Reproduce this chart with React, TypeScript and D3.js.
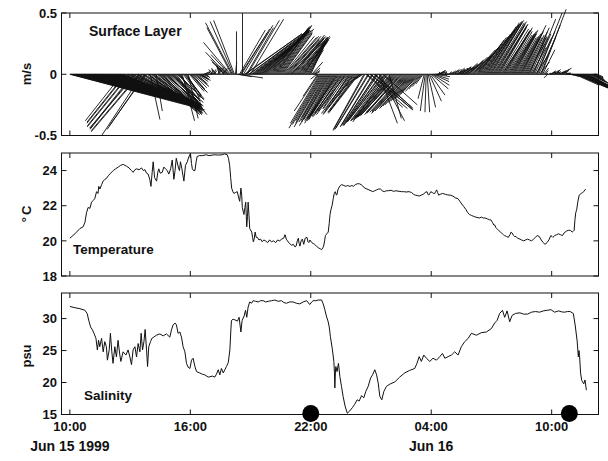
import React from "react";
import * as d3 from "d3";

// ---- time axis ----
const startTime = new Date(1999, 5, 15, 10, 0);
const axisStart = new Date(1999, 5, 15, 9, 35);
const axisEnd = new Date(1999, 5, 16, 12, 20);
const tickHours = [0, 6, 12, 18, 24];
const tickLabels = ["10:00", "16:00", "22:00", "04:00", "10:00"];
const dateLabelHours = [0, 18];
const dateLabels = ["Jun 15 1999", "Jun 16"];

// ---- surface layer current (m/s) ----
// record A: samples on the 6-minute marks from 10:00
const stickStepMinutes = 6;
const stickU = [
  1.10, 1.05, 1.02, 0.98, 0.95, 0.93, 0.90, 0.88, 0.86, 0.83,
  0.82, 0.80, 0.78, 0.75, 0.72, 0.70, 0.68, 0.66, 0.62, 0.60,
  0.58, 0.55, 0.52, 0.50, 0.48, 0.45, -0.30, 0.62, -0.32, 0.60,
  -0.35, 0.55, -0.36, -0.38, 0.52, -0.40, -0.33, 0.48, -0.30, 0.44,
  0.08, 0.42, 0.40, 0.05, 0.36, 0.33, 0.30, 0.32, 0.28, 0.25,
  0.27, 0.22, 0.18, 0.25, 0.20, 0.15, 0.10, 0.16, 0.12, 0.08,
  0.14, 0.10, 0.12, 0.08, 0.10, 0.06, 0.05, 0.04, 0.03, 0.02,
  0.04, -0.03, 0.02, -0.04, 0.05, -0.03, 0.04, -0.10, -0.17, -0.08,
  -0.22, -0.22, -0.17, 0.00, 0.20, 0.22, 0.00, 0.47, 0.22, 0.45,
  0.27, 0.44, 0.40, 0.43, 0.38, 0.40, 0.35, 0.37, 0.32, 0.35,
  0.30, 0.32, 0.28, 0.27, 0.25, 0.27, 0.24, 0.26, 0.28, 0.25,
  0.30, 0.26, 0.24, 0.27, 0.22, 0.24, 0.20, 0.18, 0.15, 0.12,
  0.14, 0.06, 0.04, -0.05, -0.20, -0.26, -0.22, -0.25, -0.20, -0.24,
  -0.22, -0.23, -0.20, -0.24, -0.26, -0.20, -0.25, -0.18, -0.28, -0.14,
  -0.24, -0.12, -0.26, -0.22, -0.25, -0.04, -0.08, -0.26, 0.33, -0.27,
  0.34, -0.26, 0.30, -0.28, 0.15, -0.29, 0.28, -0.30, -0.28, 0.10,
  -0.31, -0.29, -0.32, -0.30, -0.31, -0.28, -0.30, -0.27, -0.29, -0.26,
  -0.25, -0.23, -0.20, -0.18, -0.15, -0.10, -0.06, -0.04, 0.02, 0.10,
  0.14, 0.13, 0.12, 0.08, 0.05, -0.02, 0.03, 0.01, 0.02, 0.02,
  0.04, 0.05, 0.08, 0.06, 0.10, 0.08, 0.12, 0.10, 0.13, 0.12,
  0.16, 0.18, 0.20, 0.20, 0.22, 0.24, 0.26, 0.27, 0.26, 0.28,
  0.25, 0.27, 0.24, 0.25, 0.22, 0.24, 0.20, 0.22, 0.20, 0.22,
  0.18, 0.20, 0.17, 0.19, 0.16, 0.20, 0.15, 0.18, 0.14, 0.16,
  0.12, 0.18, 0.10, 0.20, 0.08, 0.20, 0.04, 0.02, -0.03, 0.05,
  0.03, 0.06, 0.04, 0.02, 0.05, 0.08, 0.03, 0.04, 0.02, 0.03,
  0.04, 0.08, 0.28, 0.27, 0.26, 0.24, 0.22, 0.20, 0.20, 0.16,
  0.12, 0.08, 0.06,
];
const stickV = [
  -0.29, -0.27, -0.26, -0.26, -0.25, -0.25, -0.24, -0.23, -0.24, -0.22,
  -0.23, -0.22, -0.22, -0.21, -0.20, -0.21, -0.20, -0.19, -0.20, -0.18,
  -0.20, -0.19, -0.17, -0.18, -0.17, -0.15, -0.38, -0.26, -0.40, -0.25,
  -0.43, -0.24, -0.45, -0.44, -0.27, -0.47, -0.50, -0.28, -0.42, -0.33,
  -0.37, -0.30, -0.32, -0.30, -0.30, -0.28, -0.30, -0.26, -0.25, -0.27,
  -0.23, -0.20, -0.24, -0.33, -0.20, -0.25, -0.38, -0.20, -0.18, -0.36,
  -0.15, -0.12, -0.10, -0.07, -0.05, -0.04, -0.02, 0.02, -0.03, 0.03,
  0.01, 0.04, 0.03, 0.05, 0.06, 0.07, 0.04, 0.10, 0.18, 0.07,
  0.26, 0.42, 0.44, 0.35, -0.03, 0.34, 0.50, 0.33, 0.38, 0.32,
  0.45, 0.33, 0.30, 0.34, 0.31, 0.35, 0.33, 0.36, 0.34, 0.39,
  0.36, 0.40, 0.37, 0.38, 0.35, 0.37, 0.33, 0.30, 0.31, 0.28,
  0.30, 0.32, 0.29, 0.31, 0.27, 0.30, 0.26, 0.30, 0.24, 0.20,
  0.30, 0.05, 0.02, -0.04, -0.30, -0.44, -0.38, -0.43, -0.35, -0.42,
  -0.37, -0.40, -0.34, -0.38, -0.36, -0.30, -0.34, -0.28, -0.35, -0.22,
  -0.32, -0.18, -0.33, -0.30, -0.32, -0.03, -0.05, -0.46, -0.28, -0.44,
  -0.29, -0.42, -0.27, -0.41, -0.40, -0.40, -0.25, -0.38, -0.39, -0.36,
  -0.37, -0.35, -0.36, -0.34, -0.33, -0.32, -0.31, -0.30, -0.32, -0.28,
  -0.27, -0.25, -0.22, -0.20, -0.16, -0.12, -0.08, -0.30, -0.31, -0.22,
  -0.12, -0.06, -0.02, 0.02, 0.03, 0.02, -0.01, 0.02, 0.00, 0.01,
  0.03, 0.04, 0.03, 0.05, 0.05, 0.06, 0.07, 0.09, 0.10, 0.12,
  0.15, 0.20, 0.22, 0.25, 0.30, 0.33, 0.37, 0.40, 0.42, 0.44,
  0.42, 0.43, 0.40, 0.41, 0.38, 0.36, 0.33, 0.38, 0.32, 0.35,
  0.30, 0.36, 0.30, 0.33, 0.28, 0.40, 0.30, 0.35, 0.25, 0.38,
  0.22, 0.45, 0.15, 0.50, 0.10, 0.53, 0.05, 0.01, -0.03, 0.02,
  0.03, 0.02, 0.04, 0.01, 0.03, 0.05, 0.02, 0.01, 0.00, 0.00,
  -0.01, -0.02, -0.12, -0.12, -0.12, -0.11, -0.11, -0.10, -0.12, -0.08,
  -0.06, -0.04, -0.03,
];
// record B: samples 3 minutes after each record A sample
const stickOffsetMinutes = 3;
const stickUB = [
  1.07, 1.03, 1.00, 0.96, 0.94, 0.91, 0.89, 0.87, 0.84, 0.83,
  0.81, 0.79, 0.76, 0.73, 0.71, 0.69, 0.67, 0.64, 0.61, 0.59,
  0.56, 0.54, 0.51, 0.49, 0.46, 0.50, 0.64, -0.31, 0.61, -0.34,
  0.58, -0.35, 0.54, 0.50, -0.39, 0.50, 0.46, -0.31, 0.45, 0.43,
  0.41, 0.38, 0.37, 0.35, 0.34, 0.31, 0.30, 0.29, 0.26, 0.26,
  0.24, 0.20, 0.22, 0.22, 0.17, 0.12, 0.14, 0.13, 0.10, 0.12,
  0.11, 0.11, 0.10, 0.09, 0.08, 0.05, 0.04, 0.03, 0.02, 0.03,
  0.01, 0.02, -0.03, 0.03, -0.02, 0.05, -0.06, -0.12, -0.05, -0.15,
  -0.20, -0.19, 0.01, 0.12, 0.21, 0.23, 0.24, 0.46, 0.26, 0.44,
  0.42, 0.41, 0.42, 0.39, 0.39, 0.36, 0.36, 0.34, 0.33, 0.32,
  0.31, 0.30, 0.27, 0.26, 0.26, 0.25, 0.25, 0.27, 0.26, 0.28,
  0.28, 0.25, 0.26, 0.25, 0.23, 0.22, 0.19, 0.17, 0.13, 0.13,
  0.09, 0.05, 0.02, -0.12, -0.24, -0.24, -0.23, -0.22, -0.22, -0.23,
  -0.22, -0.21, -0.22, -0.25, -0.23, -0.22, -0.21, -0.24, -0.20, -0.20,
  -0.19, -0.25, -0.23, -0.24, -0.12, -0.05, -0.25, 0.30, -0.27, 0.35,
  -0.26, 0.32, -0.27, -0.28, 0.20, -0.29, -0.30, -0.29, -0.30, -0.30,
  -0.30, -0.31, -0.31, -0.30, -0.29, -0.29, -0.28, -0.28, -0.27, -0.25,
  -0.24, -0.21, -0.19, -0.16, -0.12, -0.08, -0.05, -0.01, 0.06, 0.12,
  0.14, 0.12, 0.10, 0.06, 0.03, 0.01, 0.02, 0.01, 0.03, 0.03,
  0.05, 0.06, 0.07, 0.08, 0.09, 0.10, 0.11, 0.12, 0.12, 0.14,
  0.17, 0.19, 0.20, 0.21, 0.23, 0.25, 0.26, 0.27, 0.27, 0.26,
  0.26, 0.25, 0.25, 0.23, 0.23, 0.22, 0.21, 0.21, 0.21, 0.20,
  0.19, 0.18, 0.18, 0.17, 0.18, 0.17, 0.16, 0.16, 0.15, 0.14,
  0.15, 0.14, 0.15, 0.14, 0.16, 0.10, 0.03, 0.01, 0.02, 0.04,
  0.05, 0.04, 0.03, 0.04, 0.07, 0.05, 0.03, 0.03, 0.02, 0.03,
  0.05, 0.20, 0.28, 0.27, 0.25, 0.23, 0.21, 0.21, 0.18, 0.14,
  0.10, 0.07, 0.05,
];
const stickVB = [
  -0.28, -0.27, -0.25, -0.26, -0.24, -0.25, -0.23, -0.24, -0.23, -0.22,
  -0.22, -0.21, -0.22, -0.20, -0.21, -0.19, -0.20, -0.19, -0.19, -0.19,
  -0.18, -0.18, -0.17, -0.17, -0.16, -0.20, -0.26, -0.39, -0.25, -0.42,
  -0.25, -0.44, -0.26, -0.28, -0.46, -0.27, -0.30, -0.45, -0.31, -0.32,
  -0.31, -0.33, -0.30, -0.29, -0.31, -0.29, -0.27, -0.25, -0.26, -0.24,
  -0.22, -0.22, -0.28, -0.21, -0.22, -0.30, -0.19, -0.17, -0.20, -0.14,
  -0.13, -0.11, -0.08, -0.06, -0.04, -0.03, 0.01, -0.02, 0.02, 0.02,
  0.03, 0.04, 0.04, 0.05, 0.06, 0.05, 0.08, 0.12, 0.05, 0.16,
  0.38, 0.43, 0.10, -0.02, 0.36, 0.37, 0.40, 0.33, 0.44, 0.33,
  0.32, 0.31, 0.33, 0.32, 0.34, 0.34, 0.35, 0.35, 0.37, 0.38,
  0.39, 0.38, 0.36, 0.36, 0.36, 0.34, 0.31, 0.31, 0.29, 0.30,
  0.31, 0.30, 0.30, 0.29, 0.28, 0.28, 0.28, 0.27, 0.22, 0.26,
  0.10, 0.03, -0.02, -0.18, -0.40, -0.41, -0.40, -0.39, -0.38, -0.39,
  -0.38, -0.36, -0.37, -0.37, -0.33, -0.32, -0.30, -0.33, -0.28, -0.29,
  -0.27, -0.32, -0.31, -0.31, -0.10, -0.04, -0.45, -0.27, -0.45, -0.29,
  -0.43, -0.28, -0.42, -0.42, -0.38, -0.39, -0.39, -0.38, -0.38, -0.37,
  -0.36, -0.36, -0.35, -0.33, -0.33, -0.31, -0.31, -0.31, -0.30, -0.28,
  -0.26, -0.23, -0.21, -0.18, -0.14, -0.10, -0.20, -0.31, -0.27, -0.17,
  -0.09, -0.04, 0.00, 0.03, 0.02, 0.01, 0.01, 0.01, 0.02, 0.02,
  0.03, 0.04, 0.04, 0.05, 0.06, 0.06, 0.08, 0.09, 0.11, 0.14,
  0.17, 0.21, 0.24, 0.28, 0.31, 0.35, 0.39, 0.41, 0.43, 0.43,
  0.42, 0.41, 0.40, 0.39, 0.37, 0.35, 0.36, 0.35, 0.33, 0.33,
  0.33, 0.33, 0.31, 0.30, 0.34, 0.35, 0.32, 0.30, 0.31, 0.30,
  0.33, 0.30, 0.35, 0.30, 0.40, 0.20, 0.03, 0.00, 0.01, 0.02,
  0.03, 0.03, 0.02, 0.02, 0.04, 0.03, 0.01, 0.01, 0.00, -0.01,
  -0.02, -0.09, -0.12, -0.12, -0.11, -0.11, -0.10, -0.11, -0.10, -0.07,
  -0.05, -0.03, -0.02,
];

// ---- temperature (°C), hours after 10:00 Jun 15 ----
const tempHours = [
  0.00, 0.25, 0.50, 0.66, 0.75, 0.83, 0.91, 1.00, 1.08, 1.16, 1.24, 1.33, 1.40, 1.44, 1.50, 1.58, 1.66, 1.74, 1.82, 1.91,
  2.03, 2.16, 2.28, 2.41, 2.53, 2.66, 2.82, 2.95, 3.07, 3.15, 3.24, 3.32, 3.45, 3.57, 3.66, 3.74, 3.82, 3.90, 3.98, 4.04,
  4.10, 4.15, 4.22, 4.32, 4.38, 4.43, 4.50, 4.60, 4.68, 4.76, 4.85, 4.93, 5.02, 5.10, 5.18, 5.24, 5.30, 5.40, 5.46, 5.51,
  5.58, 5.68, 5.76, 5.85, 5.93, 6.01, 6.06, 6.10, 6.16, 6.23, 6.29, 6.34, 6.45, 6.59, 6.80, 6.93, 7.20, 7.40, 7.59, 7.70,
  7.84, 7.90, 7.96, 8.01, 8.06, 8.12, 8.17, 8.25, 8.34, 8.40, 8.46, 8.52, 8.56, 8.59, 8.67, 8.72, 8.76, 8.81, 8.85, 8.88,
  8.92, 8.96, 9.06, 9.10, 9.14, 9.18, 9.23, 9.28, 9.34, 9.42, 9.50, 9.58, 9.66, 9.75, 9.85, 9.95, 10.05, 10.15, 10.25, 10.35,
  10.45, 10.55, 10.65, 10.72, 10.78, 10.84, 10.94, 11.05, 11.13, 11.22, 11.27, 11.33, 11.38, 11.42, 11.46, 11.52, 11.58, 11.65, 11.72, 11.81,
  11.86, 11.90, 11.96, 12.05, 12.12, 12.19, 12.28, 12.39, 12.47, 12.54, 12.60, 12.64, 12.69, 12.73, 12.80, 12.87, 12.92, 12.96, 13.01, 13.06,
  13.12, 13.17, 13.22, 13.28, 13.31, 13.35, 13.39, 13.47, 13.54, 13.65, 13.75, 13.83, 13.95, 14.05, 14.12, 14.22, 14.32, 14.42, 14.51, 14.60,
  14.70, 14.80, 14.90, 15.00, 15.09, 15.18, 15.28, 15.38, 15.47, 15.56, 15.66, 15.76, 15.86, 16.00, 16.12, 16.24, 16.40, 16.52, 16.63, 16.75,
  16.90, 17.02, 17.12, 17.21, 17.30, 17.40, 17.50, 17.60, 17.70, 17.79, 17.84, 17.88, 17.93, 17.98, 18.05, 18.12, 18.18, 18.22, 18.27, 18.32,
  18.37, 18.45, 18.56, 18.70, 18.80, 18.95, 19.08, 19.20, 19.33, 19.43, 19.52, 19.62, 19.72, 19.82, 19.91, 20.00, 20.10, 20.22, 20.39, 20.50,
  20.60, 20.68, 20.80, 20.90, 20.97, 21.05, 21.12, 21.17, 21.22, 21.26, 21.31, 21.36, 21.45, 21.55, 21.60, 21.65, 21.75, 21.84, 21.92, 21.98,
  22.03, 22.10, 22.15, 22.22, 22.30, 22.42, 22.50, 22.61, 22.70, 22.80, 22.90, 23.00, 23.10, 23.19, 23.28, 23.38, 23.48, 23.58, 23.67, 23.72,
  23.77, 23.86, 23.96, 24.02, 24.06, 24.15, 24.25, 24.34, 24.44, 24.54, 24.62, 24.73, 24.83, 24.93, 25.02, 25.08, 25.12, 25.16, 25.20, 25.25,
  25.30, 25.37, 25.42, 25.47, 25.54, 25.60, 25.66, 25.70,
];
const tempValues = [
  20.15, 20.4, 20.7, 20.8, 21.05, 21.6, 21.9, 21.85, 22.2, 22.3, 22.4, 22.8, 22.7, 23.1, 22.95, 23.2, 23.4, 23.5, 23.55, 23.7,
  23.85, 24.0, 24.1, 24.2, 24.3, 24.35, 24.25, 24.15, 24.0, 23.9, 24.05, 24.1, 24.05, 24.15, 24.0, 24.05, 23.85, 23.8, 23.5, 23.1,
  23.9, 24.5, 23.6, 23.4, 23.9, 24.1, 23.85, 23.9, 24.2, 24.1, 24.0, 23.8, 24.1, 24.6, 23.5, 24.0, 24.7, 24.2, 24.0, 24.5,
  24.1, 23.4, 24.3, 24.5, 24.8, 24.95, 24.4, 24.1, 24.0, 24.0, 24.5, 24.8, 24.85, 24.85, 24.9, 24.85, 24.9, 24.88, 24.9, 24.95,
  24.9, 24.7, 24.3, 23.6, 23.0, 22.8, 22.7, 22.75, 22.8, 22.5, 22.25, 23.0, 22.6, 21.9, 21.5, 21.9, 22.2, 20.8, 21.4, 22.2,
  21.5, 20.7, 20.5, 20.2, 19.95, 20.1, 20.5, 20.2, 20.2, 20.05, 20.1, 19.95, 20.05, 20.0, 19.9, 20.05, 19.95, 20.0, 19.9, 20.05,
  20.0, 20.1, 20.15, 20.35, 20.1, 20.0, 19.85, 19.75, 19.8, 19.65, 19.7, 20.0, 20.15, 19.85, 19.7, 20.0, 20.1, 19.8, 20.15, 20.2,
  19.95, 19.9, 20.05, 19.9, 19.85, 19.8, 19.7, 19.6, 19.55, 19.5, 19.6, 19.7, 20.0, 20.3, 20.4, 20.5, 21.0, 21.5, 21.8, 22.0,
  22.4, 22.7, 22.8, 22.6, 22.65, 22.9, 23.0, 23.15, 23.2, 23.15, 23.1, 23.15, 23.1, 23.15, 23.1, 23.2, 23.25, 23.25, 23.2, 23.1,
  23.0, 22.95, 22.9, 22.85, 22.8, 22.85, 22.9, 22.95, 22.95, 22.85, 22.8, 22.85, 22.85, 22.88, 22.82, 22.85, 22.82, 22.8, 22.8, 22.78,
  22.8, 22.75, 22.65, 22.6, 22.58, 22.55, 22.6, 22.65, 22.75, 22.8, 22.65, 22.6, 22.7, 22.8, 22.75, 22.7, 22.7, 22.8, 22.9, 22.75,
  22.6, 22.65, 22.7, 22.65, 22.62, 22.6, 22.55, 22.45, 22.4, 22.25, 22.1, 21.95, 21.8, 21.6, 21.5, 21.45, 21.4, 21.35, 21.3, 21.35,
  21.3, 21.3, 21.25, 21.2, 21.2, 21.05, 20.9, 20.9, 20.75, 20.7, 20.65, 20.6, 20.5, 20.4, 20.35, 20.3, 20.25, 20.2, 20.35, 20.5,
  20.45, 20.3, 20.25, 20.25, 20.15, 20.1, 20.05, 20.0, 20.05, 20.1, 20.05, 20.0, 20.1, 20.2, 20.3, 20.25, 20.05, 19.9, 19.8, 19.85,
  19.9, 20.05, 20.3, 20.25, 20.2, 20.3, 20.35, 20.4, 20.35, 20.3, 20.45, 20.55, 20.6, 20.6, 20.5, 20.55, 20.6, 21.2, 21.6, 21.8,
  22.2, 22.6, 22.65, 22.7, 22.75, 22.8, 22.9, 22.95,
];

// ---- salinity (psu), hours after 10:00 Jun 15 ----
const salHours = [
  0.00, 0.25, 0.50, 0.75, 0.86, 0.96, 1.03, 1.13, 1.20, 1.30, 1.37, 1.43, 1.49, 1.58, 1.66, 1.74, 1.82, 1.87, 1.96, 2.02,
  2.09, 2.15, 2.24, 2.32, 2.40, 2.49, 2.54, 2.65, 2.79, 2.90, 2.99, 3.07, 3.15, 3.24, 3.32, 3.40, 3.49, 3.55, 3.62, 3.69,
  3.75, 3.82, 3.87, 3.93, 4.02, 4.08, 4.18, 4.31, 4.48, 4.65, 4.81, 4.98, 5.06, 5.14, 5.24, 5.31, 5.39, 5.48, 5.56, 5.64,
  5.73, 5.81, 5.89, 5.98, 6.06, 6.14, 6.23, 6.31, 6.47, 6.60, 6.72, 6.89, 6.97, 7.10, 7.22, 7.30, 7.39, 7.47, 7.55, 7.64,
  7.72, 7.80, 7.89, 7.97, 8.02, 8.05, 8.13, 8.22, 8.35, 8.43, 8.52, 8.58, 8.68, 8.75, 8.81, 8.88, 8.96, 9.05, 9.13, 9.25,
  9.38, 9.50, 9.63, 9.75, 9.88, 10.05, 10.21, 10.38, 10.54, 10.66, 10.79, 10.95, 11.12, 11.28, 11.45, 11.62, 11.79, 11.95, 12.05, 12.12,
  12.25, 12.37, 12.54, 12.62, 12.70, 12.79, 12.86, 12.92, 12.98, 13.08, 13.15, 13.18, 13.20, 13.23, 13.25, 13.31, 13.38, 13.45, 13.53, 13.61,
  13.71, 13.82, 13.94, 14.08, 14.19, 14.31, 14.41, 14.53, 14.64, 14.74, 14.86, 14.98, 15.08, 15.19, 15.28, 15.36, 15.44, 15.54, 15.64, 15.77,
  15.94, 16.19, 16.43, 16.68, 16.93, 17.18, 17.29, 17.40, 17.51, 17.63, 17.76, 17.93, 18.09, 18.26, 18.43, 18.56, 18.68, 18.84, 19.01, 19.17,
  19.34, 19.50, 19.67, 19.84, 20.00, 20.25, 20.50, 20.75, 21.00, 21.16, 21.28, 21.41, 21.55, 21.66, 21.78, 21.91, 22.03, 22.20, 22.42, 22.60,
  22.80, 23.00, 23.19, 23.40, 23.58, 23.78, 23.96, 24.15, 24.34, 24.50, 24.63, 24.80, 24.92, 25.08, 25.17, 25.27, 25.33, 25.36, 25.39, 25.44,
  25.50, 25.60, 25.66, 25.73,
];
const salValues = [
  31.9, 31.7, 31.55, 31.3, 30.8, 29.5, 28.7, 28.2, 27.7, 26.9, 25.1, 26.6, 25.6, 26.9, 24.8, 26.4, 25.6, 23.5, 25.1, 27.7,
  24.8, 23.0, 25.6, 24.0, 26.6, 24.3, 23.3, 24.8, 24.3, 25.1, 24.0, 22.8, 25.1, 25.6, 24.0, 26.1, 24.8, 27.7, 25.1, 26.4,
  28.3, 25.1, 22.5, 25.6, 26.4, 26.9, 27.1, 27.4, 27.6, 27.3, 27.6, 27.1, 28.2, 29.0, 29.3, 29.0, 27.7, 27.9, 27.1, 25.6,
  24.8, 23.0, 22.4, 22.2, 23.5, 23.8, 22.5, 21.7, 21.5, 21.3, 21.2, 20.85, 20.9, 21.0, 20.85, 21.3, 22.0, 21.2, 22.2, 21.5,
  22.0, 22.5, 23.1, 25.1, 28.2, 29.7, 29.9, 29.8, 29.6, 30.2, 27.9, 29.7, 30.4, 31.3, 30.2, 31.8, 32.6, 32.4, 32.8, 32.7,
  32.6, 32.8, 32.8, 32.6, 32.7, 32.8, 32.9, 32.7, 32.8, 32.5, 32.4, 32.6, 32.6, 32.4, 32.3, 32.6, 32.8, 32.2, 32.6, 32.8,
  32.8, 32.9, 32.9, 32.3, 31.4, 30.25, 29.6, 28.7, 27.15, 25.1, 23.3, 21.5, 19.15, 21.8, 22.5, 21.7, 23.0, 20.95, 19.4, 17.85,
  16.3, 15.2, 15.55, 16.1, 16.6, 17.3, 17.1, 17.95, 17.6, 18.6, 19.4, 20.7, 21.2, 22.0, 21.2, 19.9, 17.85, 17.3, 18.6, 19.4,
  19.75, 20.1, 20.85, 21.5, 21.9, 22.2, 23.0, 24.05, 23.3, 24.3, 23.8, 23.3, 23.8, 23.5, 24.05, 24.55, 23.8, 24.05, 24.3, 24.8,
  24.3, 25.6, 26.4, 26.9, 27.7, 27.4, 27.8, 27.9, 28.45, 29.3, 29.7, 30.8, 31.3, 30.2, 31.2, 29.5, 30.5, 30.8, 30.9, 30.7,
  30.7, 31.0, 31.1, 31.0, 31.2, 31.3, 31.4, 31.0, 31.2, 31.05, 31.0, 31.1, 31.1, 30.8, 29.0, 26.5, 24.0, 25.0, 24.2, 21.5,
  20.3, 19.8, 20.4, 18.8,
];

// event markers drawn on the salinity axis
const markerHours = [12, 24.88];

// axis ticks per panel
const velTicks = [-0.5, 0, 0.5];
const velTickLabels = ["-0.5", "0", "0.5"];
const tempTicks = [18, 20, 22, 24];
const salTicks = [15, 20, 25, 30];

const FONT = "'Liberation Sans', Arial, Helvetica, sans-serif";
const INK = "#111";

const atHours = (h: number) => new Date(startTime.getTime() + h * 3600 * 1000);
const atMinutes = (m: number) => new Date(startTime.getTime() + m * 60 * 1000);

const x = d3.scaleTime().domain([axisStart, axisEnd]).range([61.5, 598.5]);

type Panel = {
  top: number;
  bottom: number;
  y: d3.ScaleLinear<number, number>;
};

const velPanel: Panel = { top: 13, bottom: 135.5, y: d3.scaleLinear().domain([-0.5, 0.5]).range([135.5, 13]) };
const tempPanel: Panel = { top: 153, bottom: 276, y: d3.scaleLinear().domain([18, 25]).range([276, 153]) };
const salPanel: Panel = { top: 293, bottom: 414.5, y: d3.scaleLinear().domain([15, 34]).range([414.5, 293]) };

function Frame({ p, ticks, labels }: { p: Panel; ticks: number[]; labels: string[] }) {
  const [x0, x1] = x.range();
  const tl = 5;
  return (
    <g>
      <rect x={x0} y={p.top} width={x1 - x0} height={p.bottom - p.top} fill="none" stroke={INK} strokeWidth={1} />
      {tickHours.map((h, i) => {
        const xx = x(atHours(h));
        return (
          <g key={"xt" + i}>
            <line x1={xx} x2={xx} y1={p.bottom} y2={p.bottom - tl} stroke={INK} />
            <line x1={xx} x2={xx} y1={p.top} y2={p.top + tl} stroke={INK} />
          </g>
        );
      })}
      {ticks.map((t, i) => {
        const yy = p.y(t);
        return (
          <g key={"yt" + i}>
            <line x1={x0} x2={x0 + tl} y1={yy} y2={yy} stroke={INK} />
            <line x1={x1} x2={x1 - tl} y1={yy} y2={yy} stroke={INK} />
            <text x={57} y={yy} dy="0.36em" textAnchor="end" fontSize={13} fontWeight="bold" fontFamily={FONT} fill={INK}>
              {labels[i]}
            </text>
          </g>
        );
      })}
    </g>
  );
}

function YTitle({ cy, children }: { cy: number; children: React.ReactNode }) {
  return (
    <text
      transform={`translate(31,${cy}) rotate(-90)`}
      textAnchor="middle"
      fontSize={13}
      fontWeight="bold"
      fontFamily={FONT}
      fill={INK}
    >
      {children}
    </text>
  );
}

export default function App() {
  const vy = velPanel.y;
  const pxPerUnit = vy(0) - vy(1); // same scale for east and north components
  const toStick = (minutes: number, u: number, v: number) => {
    const bx = x(atMinutes(minutes));
    return { x1: bx, y1: vy(0), x2: bx + u * pxPerUnit, y2: vy(v) };
  };
  const sticks = [
    ...stickU.map((u, i) => toStick(i * stickStepMinutes, u, stickV[i])),
    ...stickUB.map((u, i) => toStick(i * stickStepMinutes + stickOffsetMinutes, u, stickVB[i])),
  ];
  const lastStick = atMinutes((stickU.length - 1) * stickStepMinutes + stickOffsetMinutes);

  const tempLine = d3
    .line<number>()
    .x((_, i) => x(atHours(tempHours[i])))
    .y((v) => tempPanel.y(v));
  const salLine = d3
    .line<number>()
    .x((_, i) => x(atHours(salHours[i])))
    .y((v) => salPanel.y(v));

  return (
    <svg width={608} height={461} style={{ position: "absolute", left: 0, top: 0, background: "#fff" }}>
      <rect width={608} height={461} fill="#fff" />

      {/* surface layer current sticks */}
      <line x1={x(startTime)} x2={x(lastStick)} y1={vy(0)} y2={vy(0)} stroke={INK} strokeWidth={1.2} />
      <g stroke={INK} strokeWidth={0.9}>
        {sticks.map((s, i) => (
          <line key={i} x1={s.x1} y1={s.y1} x2={s.x2} y2={s.y2} />
        ))}
      </g>
      <Frame p={velPanel} ticks={velTicks} labels={velTickLabels} />
      <text x={89} y={36} fontSize={14} fontWeight="bold" fontFamily={FONT} fill={INK}>
        Surface Layer
      </text>
      <YTitle cy={74}>m/s</YTitle>

      {/* temperature */}
      <path d={tempLine(tempValues) ?? ""} fill="none" stroke={INK} strokeWidth={1} />
      <Frame p={tempPanel} ticks={tempTicks} labels={tempTicks.map(String)} />
      <text x={73} y={254} fontSize={13.5} fontWeight="bold" fontFamily={FONT} fill={INK}>
        Temperature
      </text>
      <YTitle cy={214}>
        <tspan>°</tspan>
        <tspan dx={2}>C</tspan>
      </YTitle>

      {/* salinity */}
      <path d={salLine(salValues) ?? ""} fill="none" stroke={INK} strokeWidth={1} />
      <Frame p={salPanel} ticks={salTicks} labels={salTicks.map(String)} />
      <text x={84} y={400} fontSize={13.5} fontWeight="bold" fontFamily={FONT} fill={INK}>
        Salinity
      </text>
      <YTitle cy={356}>psu</YTitle>

      {markerHours.map((h, i) => (
        <circle key={i} cx={x(atHours(h))} cy={salPanel.y(15) - 1} r={8.5} fill="#000" />
      ))}

      {/* time axis labels */}
      {tickHours.map((h, i) => (
        <text key={i} x={x(atHours(h))} y={431} textAnchor="middle" fontSize={13} fontWeight="bold" fontFamily={FONT} fill={INK}>
          {tickLabels[i]}
        </text>
      ))}
      {dateLabelHours.map((h, i) => (
        <text key={i} x={x(atHours(h))} y={451} textAnchor="middle" fontSize={14} fontWeight="bold" fontFamily={FONT} fill={INK}>
          {dateLabels[i]}
        </text>
      ))}
    </svg>
  );
}
